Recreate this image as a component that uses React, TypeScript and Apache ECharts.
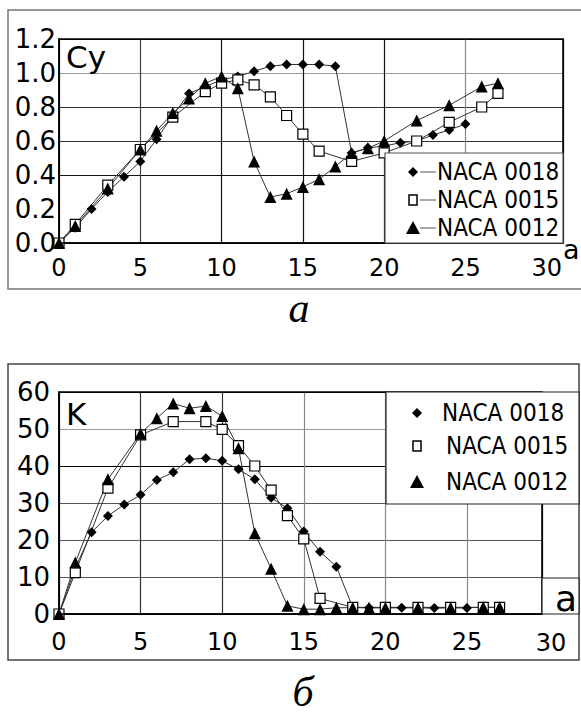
import React, { useEffect, useRef } from "react";
import * as echarts from "echarts";

// ---------- data ----------
const SERIES_NAMES = ["NACA 0018", "NACA 0015", "NACA 0012"];

// Chart a: Cy versus angle of attack
const cyAlpha0018 = [0, 1, 2, 3, 4, 5, 6, 7, 8, 9, 10, 11, 12, 13, 14, 15, 16, 17, 18, 19, 20, 21, 22, 23, 24, 25];
const cy0018 = [0, 0.09, 0.2, 0.3, 0.39, 0.48, 0.61, 0.75, 0.88, 0.92, 0.96, 0.98, 1.01, 1.04, 1.05, 1.05, 1.05, 1.04, 0.53, 0.56, 0.57, 0.59, 0.6, 0.635, 0.665, 0.7];
const cyAlpha0015 = [0, 1, 3, 5, 7, 9, 10, 11, 12, 13, 14, 15, 16, 18, 20, 22, 24, 26, 27];
const cy0015 = [0, 0.11, 0.34, 0.55, 0.74, 0.89, 0.94, 0.96, 0.93, 0.86, 0.75, 0.64, 0.54, 0.48, 0.53, 0.6, 0.71, 0.8, 0.88];
const cyAlpha0012 = [0, 1, 3, 5, 6, 7, 8, 9, 10, 11, 12, 13, 14, 15, 16, 17, 18, 19, 20, 22, 24, 26, 27];
const cy0012 = [0, 0.1, 0.32, 0.55, 0.66, 0.765, 0.85, 0.94, 0.98, 0.91, 0.48, 0.27, 0.29, 0.33, 0.375, 0.45, 0.53, 0.557, 0.6, 0.72, 0.81, 0.92, 0.94];

// Chart б: K versus angle of attack
const kAlpha0018 = [0, 1, 2, 3, 4, 5, 6, 7, 8, 9, 10, 11, 12, 13, 14, 15, 16, 17, 18, 19, 20, 21, 22, 23, 24, 25];
const k0018 = [0, 12.5, 22.1, 26.5, 29.6, 32.2, 36.2, 38.3, 41.8, 42.1, 41.4, 39.1, 36.4, 31.4, 28.6, 22.3, 16.8, 12.8, 1.8, 1.7, 1.7, 1.7, 1.7, 1.6, 1.7, 1.6];
const kAlpha0015 = [0, 1, 3, 5, 7, 9, 10, 11, 12, 13, 14, 15, 16, 18, 20, 22, 24, 26, 27];
const k0015 = [0, 11.2, 34, 48.4, 52, 52, 49.9, 45.5, 40, 33.5, 26.6, 20.3, 4.2, 1.8, 1.8, 1.8, 1.8, 1.8, 1.8];
const kAlpha0012 = [0, 1, 3, 5, 6, 7, 8, 9, 10, 11, 12, 13, 14, 15, 16, 17, 18, 19, 20, 22, 24, 26, 27];
const k0012 = [0, 13.9, 36.4, 48.8, 52.9, 56.9, 55.6, 56.2, 53.5, 44.8, 21.8, 12.2, 2.2, 1.3, 1.3, 1.7, 1.7, 1.7, 1.7, 1.7, 1.7, 1.8, 1.8];

// axis tick settings
const X_TICK_STEP = 5;
const CY_MAX = 1.2;
const CY_STEP = 0.2;
const K_MAX = 60;
const K_STEP = 10;

const FONT = "'DejaVu Sans', sans-serif";
const LEGEND_FONT = "'DejaVu Sans Condensed', 'DejaVu Sans', sans-serif";

const pairs = (xs: number[], ys: number[]) => xs.map((x, i) => [x, ys[i]]);

const symbolFor = (i: number) =>
  i === 0
    ? { symbol: "diamond", symbolSize: 10, itemStyle: { color: "#000" } }
    : i === 1
    ? { symbol: "rect", symbolSize: 10, itemStyle: { color: "#fff", borderColor: "#000", borderWidth: 1.2 } }
    : { symbol: "triangle", symbolSize: 12, itemStyle: { color: "#000" } };

const markerGraphic = (i: number, cx: number, cy: number) => {
  if (i === 0)
    return {
      type: "polygon",
      z: 12,
      shape: { points: [[cx, cy - 5], [cx + 5, cy], [cx, cy + 5], [cx - 5, cy]] },
      style: { fill: "#000" },
    };
  if (i === 1)
    return {
      type: "rect",
      z: 12,
      shape: { x: cx - 4, y: cy - 5, width: 8, height: 10 },
      style: { fill: "#fff", stroke: "#000", lineWidth: 1.5 },
    };
  return {
    type: "polygon",
    z: 12,
    shape: { points: [[cx, cy - 7], [cx + 7, cy + 6], [cx - 7, cy + 6]] },
    style: { fill: "#000" },
  };
};

export default function App() {
  const ref = useRef<HTMLDivElement>(null);

  useEffect(() => {
    if (!ref.current) return;
    const chart = echarts.init(ref.current, null, { renderer: "svg" });

    const xLabelStyle = { color: "#000", fontSize: 24, fontFamily: FONT };
    const yLabelStyle = { color: "#000", fontSize: 26, fontFamily: FONT };

    const topSeries = [
      pairs(cyAlpha0018, cy0018),
      pairs(cyAlpha0015, cy0015),
      pairs(cyAlpha0012, cy0012),
    ];
    const botSeries = [
      pairs(kAlpha0018, k0018),
      pairs(kAlpha0015, k0015),
      pairs(kAlpha0012, k0012),
    ];

    const series: any[] = [];
    topSeries.forEach((d, i) =>
      series.push({
        type: "line",
        name: SERIES_NAMES[i],
        xAxisIndex: 0,
        yAxisIndex: 0,
        data: d,
        z: 5,
        lineStyle: { color: "#333", width: 1 },
        ...symbolFor(i),
      })
    );
    botSeries.forEach((d, i) =>
      series.push({
        type: "line",
        name: SERIES_NAMES[i],
        xAxisIndex: 1,
        yAxisIndex: 1,
        data: d,
        z: 5,
        lineStyle: { color: "#333", width: 1 },
        ...symbolFor(i),
      })
    );

    const graphics: any[] = [];
    // outer frames
    graphics.push({
      type: "rect",
      z: 1,
      shape: { x: 8, y: 10, width: 600, height: 279 },
      style: { fill: "none", stroke: "#777", lineWidth: 1.5 },
    });
    graphics.push({
      type: "rect",
      z: 1,
      shape: { x: 8, y: 364, width: 571, height: 296 },
      style: { fill: "none", stroke: "#444", lineWidth: 1.5 },
    });
    // plot borders
    graphics.push({
      type: "rect",
      z: 9,
      shape: { x: 59, y: 39, width: 504, height: 204 },
      style: { fill: "none", stroke: "#000", lineWidth: 1.5 },
    });
    graphics.push({
      type: "rect",
      z: 9,
      shape: { x: 59, y: 392, width: 483, height: 222 },
      style: { fill: "none", stroke: "#000", lineWidth: 1.5 },
    });
    // top legend
    graphics.push({
      type: "rect",
      z: 10,
      shape: { x: 385, y: 153, width: 178, height: 90 },
      style: { fill: "#fff", stroke: "#555", lineWidth: 1.2 },
    });
    [172, 200, 228].forEach((y, i) => {
      graphics.push(markerGraphic(i, 413, y));
      graphics.push({
        type: "line",
        z: 12,
        shape: { x1: 420, y1: y, x2: 436, y2: y },
        style: { stroke: "#555", lineWidth: 1 },
      });
      graphics.push({
        type: "text",
        z: 12,
        x: 437,
        y: y,
        style: { text: SERIES_NAMES[i], fill: "#000", fontSize: 24, fontFamily: LEGEND_FONT, verticalAlign: "middle" },
      });
    });
    // bottom legend
    graphics.push({
      type: "rect",
      z: 10,
      shape: { x: 386, y: 392, width: 193, height: 112 },
      style: { fill: "#fff", stroke: "#222", lineWidth: 1.2 },
    });
    [413, 446, 482].forEach((y, i) => {
      graphics.push(markerGraphic(i, 417, y));
      graphics.push({
        type: "text",
        z: 12,
        x: i === 0 ? 442 : 446,
        y: y,
        style: { text: SERIES_NAMES[i], fill: "#000", fontSize: 24, fontFamily: LEGEND_FONT, verticalAlign: "middle" },
      });
    });
    // axis names
    graphics.push({
      type: "text",
      z: 12,
      x: 66,
      y: 57,
      style: { text: "Cy", fill: "#000", fontSize: 31, fontFamily: FONT, verticalAlign: "middle" },
    });
    graphics.push({
      type: "text",
      z: 12,
      x: 66,
      y: 414,
      style: { text: "K", fill: "#000", fontSize: 31, fontFamily: FONT, verticalAlign: "middle" },
    });
    graphics.push({
      type: "text",
      z: 12,
      x: 563,
      y: 249,
      style: { text: "a", fill: "#000", fontSize: 27, fontFamily: FONT, verticalAlign: "middle" },
    });
    // bottom 'a' box
    graphics.push({
      type: "rect",
      z: 10,
      shape: { x: 542, y: 578, width: 37, height: 36 },
      style: { fill: "#fff", stroke: "#222", lineWidth: 1.2 },
    });
    graphics.push({
      type: "text",
      z: 12,
      x: 566,
      y: 598,
      style: { text: "a", fill: "#000", fontSize: 36, fontFamily: FONT, align: "center", verticalAlign: "middle" },
    });
    // bottom '30' label (beyond plot edge)
    graphics.push({
      type: "text",
      z: 12,
      x: 551,
      y: 643,
      style: { text: "30", fill: "#000", fontSize: 24, fontFamily: FONT, align: "center", verticalAlign: "middle" },
    });
    // captions
    graphics.push({
      type: "text",
      z: 12,
      x: 299,
      y: 308,
      style: { text: "а", fill: "#000", fontSize: 42, fontStyle: "italic", fontFamily: "'Liberation Serif', serif", align: "center", verticalAlign: "middle" },
    });
    graphics.push({
      type: "text",
      z: 12,
      x: 303,
      y: 692,
      style: { text: "б", fill: "#000", fontSize: 42, fontStyle: "italic", fontFamily: "'Liberation Serif', serif", align: "center", verticalAlign: "middle" },
    });

    chart.setOption({
      animation: false,
      backgroundColor: "#fff",
      grid: [
        { left: 59, top: 39, width: 504, height: 204 },
        { left: 59, top: 392, width: 483, height: 222 },
      ],
      xAxis: [
        {
          type: "value",
          gridIndex: 0,
          min: 0,
          max: 31,
          interval: X_TICK_STEP,
          axisLine: { show: true, lineStyle: { color: "#000", width: 1.5 } },
          axisTick: { show: false },
          axisLabel: {
            ...xLabelStyle,
            margin: 13,
            formatter: (v: number) => (v % X_TICK_STEP === 0 ? String(v) : ""),
          },
          splitLine: {
            show: true,
            lineStyle: { color: ["#000", "#444", "#111", "#111", "#111", "#888", "rgba(0,0,0,0)", "#000"], width: 1.2 },
          },
        },
        {
          type: "value",
          gridIndex: 1,
          min: 0,
          max: 29.6,
          interval: X_TICK_STEP,
          axisLine: { show: true, lineStyle: { color: "#000", width: 1.5 } },
          axisTick: { show: false },
          axisLabel: {
            ...xLabelStyle,
            margin: 16,
            formatter: (v: number) => (v % X_TICK_STEP === 0 ? String(v) : ""),
          },
          splitLine: {
            show: true,
            lineStyle: { color: ["#000", "#333", "#333", "#888", "#888", "#888", "#000"], width: 1.2 },
          },
        },
      ],
      yAxis: [
        {
          type: "value",
          gridIndex: 0,
          min: 0,
          max: CY_MAX,
          interval: CY_STEP,
          axisLine: { show: true, lineStyle: { color: "#000", width: 1.5 } },
          axisTick: { show: false },
          axisLabel: { ...yLabelStyle, margin: 3, formatter: (v: number) => v.toFixed(1) },
          splitLine: {
            show: true,
            lineStyle: { color: ["#000", "rgba(0,0,0,0)", "#111", "#333", "#333", "#999", "#000"], width: 1.2 },
          },
        },
        {
          type: "value",
          gridIndex: 1,
          min: 0,
          max: K_MAX,
          interval: K_STEP,
          axisLine: { show: true, lineStyle: { color: "#000", width: 1.5 } },
          axisTick: { show: false },
          axisLabel: { ...yLabelStyle, margin: 9 },
          splitLine: {
            show: true,
            lineStyle: { color: ["#000", "#555", "#555", "#555", "#000", "#999", "#000"], width: 1.2 },
          },
        },
      ],
      graphic: graphics,
      series,
    });

    return () => chart.dispose();
  }, []);

  return <div ref={ref} style={{ position: "absolute", left: 0, top: 0, width: 581, height: 714 }} />;
}
